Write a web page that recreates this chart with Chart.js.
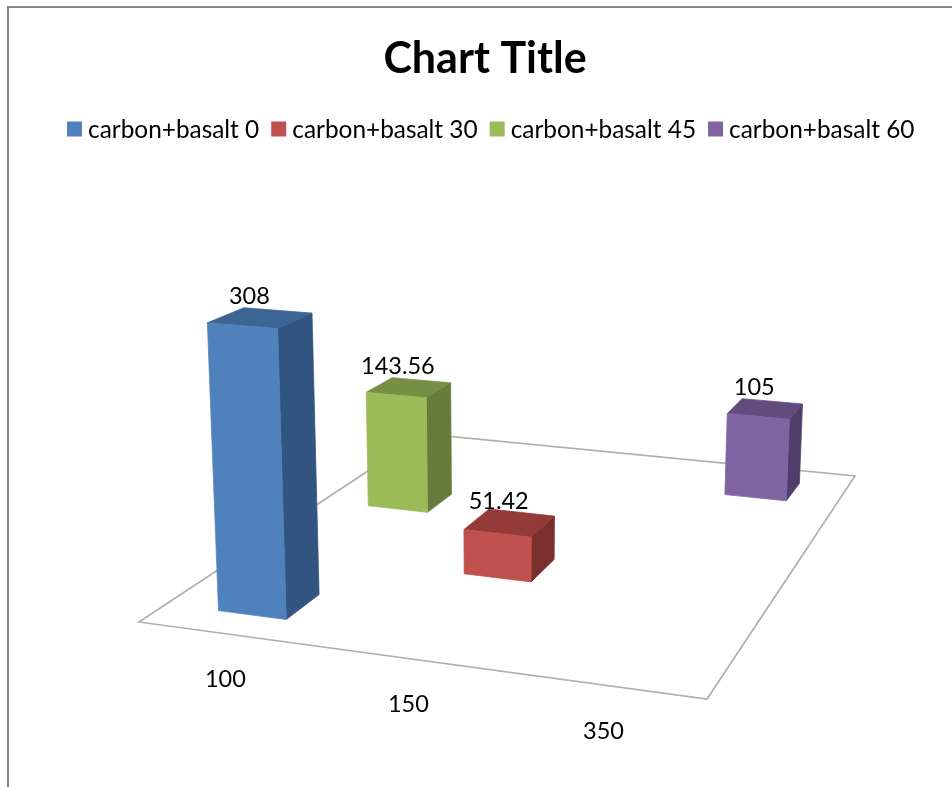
<!DOCTYPE html>
<html>
<head>
<meta charset="utf-8">
<title>Chart Title</title>
<script src="https://cdn.jsdelivr.net/npm/chart.js@4"></script>
<style>
  html, body { margin: 0; background: #fff; overflow: hidden; }
  #frame { position: absolute; left: 7px; top: 6px; right: 0; bottom: 0;
           border: solid #868686; border-width: 2px 0 0 2px; }
  #chart { position: absolute; left: 0; top: 0; }
</style>
</head>
<body>
<div id="frame"></div>
<canvas id="chart" width="952" height="787"></canvas>
<script>
var categories = ['100', '150', '350'];
var seriesNames = ['carbon+basalt 0', 'carbon+basalt 30', 'carbon+basalt 45', 'carbon+basalt 60'];
var basalt0 = [308, null, null];
var basalt30 = [null, 51.42, null];
var basalt45 = [143.56, null, null];
var basalt60 = [null, null, 105];

// front, side, top
var shades = [
  ['#4f81bd', '#315480', '#3d6594'],
  ['#c0504d', '#7a2f2d', '#943a38'],
  ['#9bbb59', '#677c3a', '#768f44'],
  ['#8064a2', '#503d6b', '#624c7e']
];

var FONT = 'Lato, Carlito, sans-serif';

// floor corners on the page: front-left, front-right, back-right, back-left
var floor = [[139, 622], [707, 699], [855, 476], [424, 434]];
var vanish = [505, 8000];  // where the verticals meet
var rise = -0.0433;        // perspective weight of a full-height column
var barSpan = 0.39;        // share of a category band
var barDepth = 0.41;       // share of a series band

// floor (u, w) + height h -> page, all three in 0..1
var camera = (function () {
  var p = floor;
  var dx1 = p[1][0] - p[2][0], dy1 = p[1][1] - p[2][1];
  var dx2 = p[3][0] - p[2][0], dy2 = p[3][1] - p[2][1];
  var sx = p[0][0] - p[1][0] + p[2][0] - p[3][0];
  var sy = p[0][1] - p[1][1] + p[2][1] - p[3][1];
  var det = dx1 * dy2 - dy1 * dx2;
  var g = (sx * dy2 - sy * dx2) / det;
  var k = (dx1 * sy - dy1 * sx) / det;
  return function (u, w, h) {
    var d = 1 + g * u + k * w;
    var x = p[0][0] + (p[1][0] - p[0][0] + g * p[1][0]) * u + (p[3][0] - p[0][0] + k * p[3][0]) * w;
    var y = p[0][1] + (p[1][1] - p[0][1] + g * p[1][1]) * u + (p[3][1] - p[0][1] + k * p[3][1]) * w;
    var t = rise * (h || 0);
    return [(x + t * vanish[0]) / (d + t), (y + t * vanish[1]) / (d + t)];
  };
})();

function fraction(scale, value) {
  return scale.getDecimalForPixel(scale.getPixelForValue(value));
}

function face(ctx, points, color) {
  ctx.beginPath();
  points.forEach(function (pt, i) {
    if (i === 0) ctx.moveTo(pt[0], pt[1]);
    else ctx.lineTo(pt[0], pt[1]);
  });
  ctx.closePath();
  ctx.fillStyle = color;
  ctx.strokeStyle = color;
  ctx.lineWidth = 0.75;   // hides the seam between faces
  ctx.fill();
  ctx.stroke();
}

function drawBox(ctx, u, w, du, dw, h, colors) {
  var u0 = u - du / 2, u1 = u + du / 2, w0 = w - dw / 2, w1 = w + dw / 2;
  face(ctx, [camera(u1, w0, 0), camera(u1, w1, 0), camera(u1, w1, h), camera(u1, w0, h)], colors[1]);
  face(ctx, [camera(u0, w0, h), camera(u1, w0, h), camera(u1, w1, h), camera(u0, w1, h)], colors[2]);
  face(ctx, [camera(u0, w0, 0), camera(u1, w0, 0), camera(u1, w0, h), camera(u0, w0, h)], colors[0]);
}

var scene3d = {
  id: 'scene3d',
  beforeDatasetsDraw: function (chart) {
    var ctx = chart.ctx;
    var xs = chart.scales.x, ys = chart.scales.y, zs = chart.scales.depth;
    var du = barSpan / categories.length, dw = barDepth / seriesNames.length;
    var labels = [];

    ctx.save();
    ctx.beginPath();
    floor.forEach(function (pt, i) {
      if (i === 0) ctx.moveTo(pt[0], pt[1]);
      else ctx.lineTo(pt[0], pt[1]);
    });
    ctx.closePath();
    ctx.strokeStyle = '#b0b0b0';
    ctx.lineWidth = 1.7;
    ctx.stroke();

    // back row first so nearer columns cover it
    for (var i = chart.data.datasets.length - 1; i >= 0; i--) {
      var ds = chart.data.datasets[i];
      ds.data.forEach(function (val, j) {
        if (val === null) return;
        var u = fraction(xs, j), w = fraction(zs, i), h = fraction(ys, val);
        drawBox(ctx, u, w, du, dw, h, shades[i]);
        var top = camera(u, w, h);
        labels.push({ text: String(val), x: top[0] - 11, y: top[1] - 21 });
      });
    }

    ctx.fillStyle = '#000';
    ctx.font = '23.5px ' + FONT;
    ctx.textAlign = 'center';
    ctx.textBaseline = 'middle';
    labels.forEach(function (l) {
      ctx.fillText(l.text, l.x, l.y);
    });

    categories.forEach(function (name, j) {
      var edge = camera(fraction(xs, j), 0, 0);
      ctx.fillText(name, edge[0] - 1, edge[1] + 46);
    });
    ctx.restore();
    return false;
  },
  afterDraw: function (chart) {
    // legend row: small swatch close to its text
    var ctx = chart.ctx;
    var x = 67, y = 129;
    ctx.save();
    ctx.font = '24.4px ' + FONT;
    ctx.textAlign = 'left';
    ctx.textBaseline = 'middle';
    chart.data.datasets.forEach(function (ds) {
      ctx.fillStyle = ds.backgroundColor;
      ctx.fillRect(x, y - 7.5, 15, 15);
      ctx.fillStyle = '#000';
      ctx.fillText(ds.label, x + 21, y + 1);
      x += 21 + ctx.measureText(ds.label).width + 12;
    });
    ctx.restore();
  }
};

var seriesValues = [basalt0, basalt30, basalt45, basalt60];

new Chart(document.getElementById('chart'), {
  type: 'bar',
  data: {
    labels: categories,
    datasets: seriesNames.map(function (name, i) {
      return { label: name, data: seriesValues[i], backgroundColor: shades[i][0] };
    })
  },
  options: {
    responsive: false,
    animation: false,
    layout: { padding: { left: 18 } },
    scales: {
      x: { display: false, offset: true },
      y: { display: false, min: 0, max: 350 },
      depth: { type: 'category', axis: 'x', position: 'top', display: false, offset: true, labels: seriesNames }
    },
    plugins: {
      legend: { display: false },
      tooltip: { enabled: false },
      title: {
        display: true,
        text: 'Chart Title',
        color: '#000',
        font: { family: FONT, size: 43, weight: 'bold' },
        padding: { top: 33, bottom: 20 }
      }
    }
  },
  plugins: [scene3d]
});
</script>
</body>
</html>
